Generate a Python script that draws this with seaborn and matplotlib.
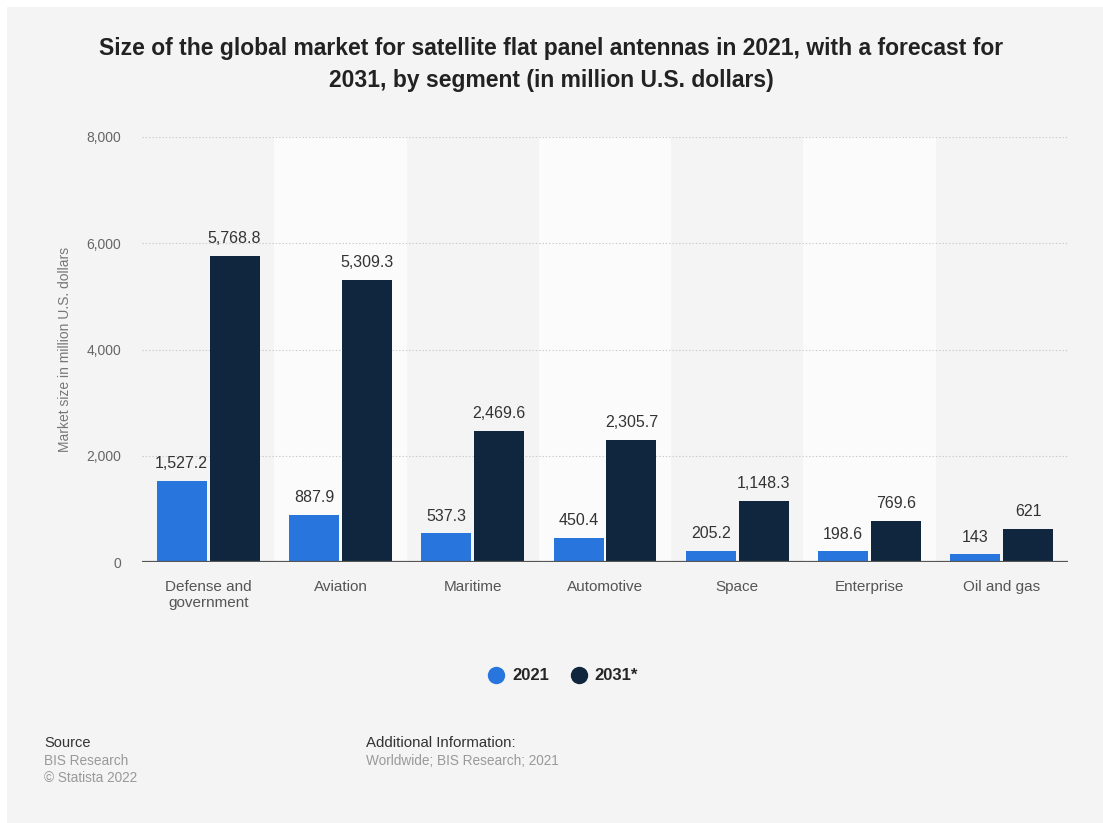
import matplotlib
matplotlib.use("Agg")
import matplotlib.pyplot as plt
from matplotlib.patches import Rectangle
from matplotlib.lines import Line2D
import seaborn as sns
import pandas as pd

# Market size by segment (million U.S. dollars)
segments = ["Defense and\ngovernment", "Aviation", "Maritime", "Automotive",
            "Space", "Enterprise", "Oil and gas"]
values_2021 = [1527.2, 887.9, 537.3, 450.4, 205.2, 198.6, 143]
values_2031 = [5768.8, 5309.3, 2469.6, 2305.7, 1148.3, 769.6, 621]
years = ["2021", "2031*"]
y_ticks = [0, 2000, 4000, 6000, 8000]
colors = {"2021": "#2876dd", "2031*": "#10263f"}

df = pd.DataFrame({
    "segment": segments * 2,
    "year": [years[0]] * len(segments) + [years[1]] * len(segments),
    "value": values_2021 + values_2031,
})

sns.set_style("white")
plt.rcParams["font.family"] = ["Liberation Sans", "DejaVu Sans"]

W, H = 1103, 823
fig = plt.figure(figsize=(W / 100, H / 100), dpi=100)
fig.patch.set_facecolor("white")
fig.patches.append(Rectangle((7 / W, 0), 1, 1 - 7 / H, transform=fig.transFigure,
                             facecolor="#f4f4f4", edgecolor="none", zorder=-10))

ax = fig.add_axes([142 / W, 1 - 562 / H, (1068 - 142) / W, (562 - 137) / H])
ax.set_facecolor("#f4f4f4")

# alternating column bands
for i in range(1, len(segments), 2):
    ax.axvspan(i - 0.5, i + 0.5, color="#fbfbfb", lw=0, zorder=0)

sns.barplot(data=df, x="segment", y="value", hue="year", palette=colors,
            width=0.8, gap=0.055, ax=ax, legend=False, linewidth=0,
            saturation=1, zorder=3)

ax.set_xlim(-0.5, len(segments) - 0.5)
ax.set_ylim(0, 8000)
ax.set_yticks(y_ticks)
ax.set_yticklabels([f"{t:,}" for t in y_ticks])
ax.set_axisbelow(True)
ax.yaxis.grid(True, linestyle=(0, (1.2, 1.8)), color="#c9c9c9", lw=0.8)
ax.xaxis.grid(False)
for s in ax.spines.values():
    s.set_visible(False)
ax.axhline(0, color="#555555", lw=1.6, zorder=4)

ax.tick_params(axis="y", length=0, pad=15, labelsize=10, labelcolor="#666666")
ax.tick_params(axis="x", length=0, pad=13, labelsize=11, labelcolor="#555555")
ax.set_xlabel("")
ax.set_ylabel("Market size in million U.S. dollars", fontsize=10, color="#777777",
              labelpad=10)


def fmt(v):
    return f"{v:,.1f}".rstrip("0").rstrip(".")


for cont, vals in zip(ax.containers, [values_2021, values_2031]):
    ax.bar_label(cont, labels=[fmt(v) for v in vals], padding=7,
                 fontsize=11.5, color="#333333")

fig.text(0.5, 1 - 64.5 / H,
         "Size of the global market for satellite flat panel antennas in 2021, with a forecast for\n"
         "2031, by segment (in million U.S. dollars)",
         ha="center", va="center", fontsize=16.5, fontweight="bold", color="#222222",
         linespacing=1.45)

handles = [Line2D([], [], marker="o", linestyle="none", markersize=11.5,
                  markerfacecolor=colors[y], markeredgecolor=colors[y]) for y in years]
fig.legend(handles, years, loc="center", bbox_to_anchor=(563 / W, 1 - 676 / H),
           ncol=2, frameon=False, handlelength=1.0, handletextpad=0.45,
           columnspacing=1.3, prop={"weight": "bold", "size": 12})

fig.text(44 / W, 1 - 743 / H, "Source", fontsize=10.5, color="#333333", va="center")
fig.text(44 / W, 1 - 761 / H, "BIS Research", fontsize=9.8, color="#999999", va="center")
fig.text(44 / W, 1 - 778 / H, "\u00a9 Statista 2022", fontsize=9.8, color="#999999", va="center")
fig.text(366 / W, 1 - 743 / H, "Additional Information:", fontsize=10.8, color="#333333",
         va="center")
fig.text(366 / W, 1 - 761 / H, "Worldwide; BIS Research; 2021", fontsize=9.8, color="#999999",
         va="center")

fig.savefig("out.png", dpi=100, facecolor=fig.get_facecolor())
